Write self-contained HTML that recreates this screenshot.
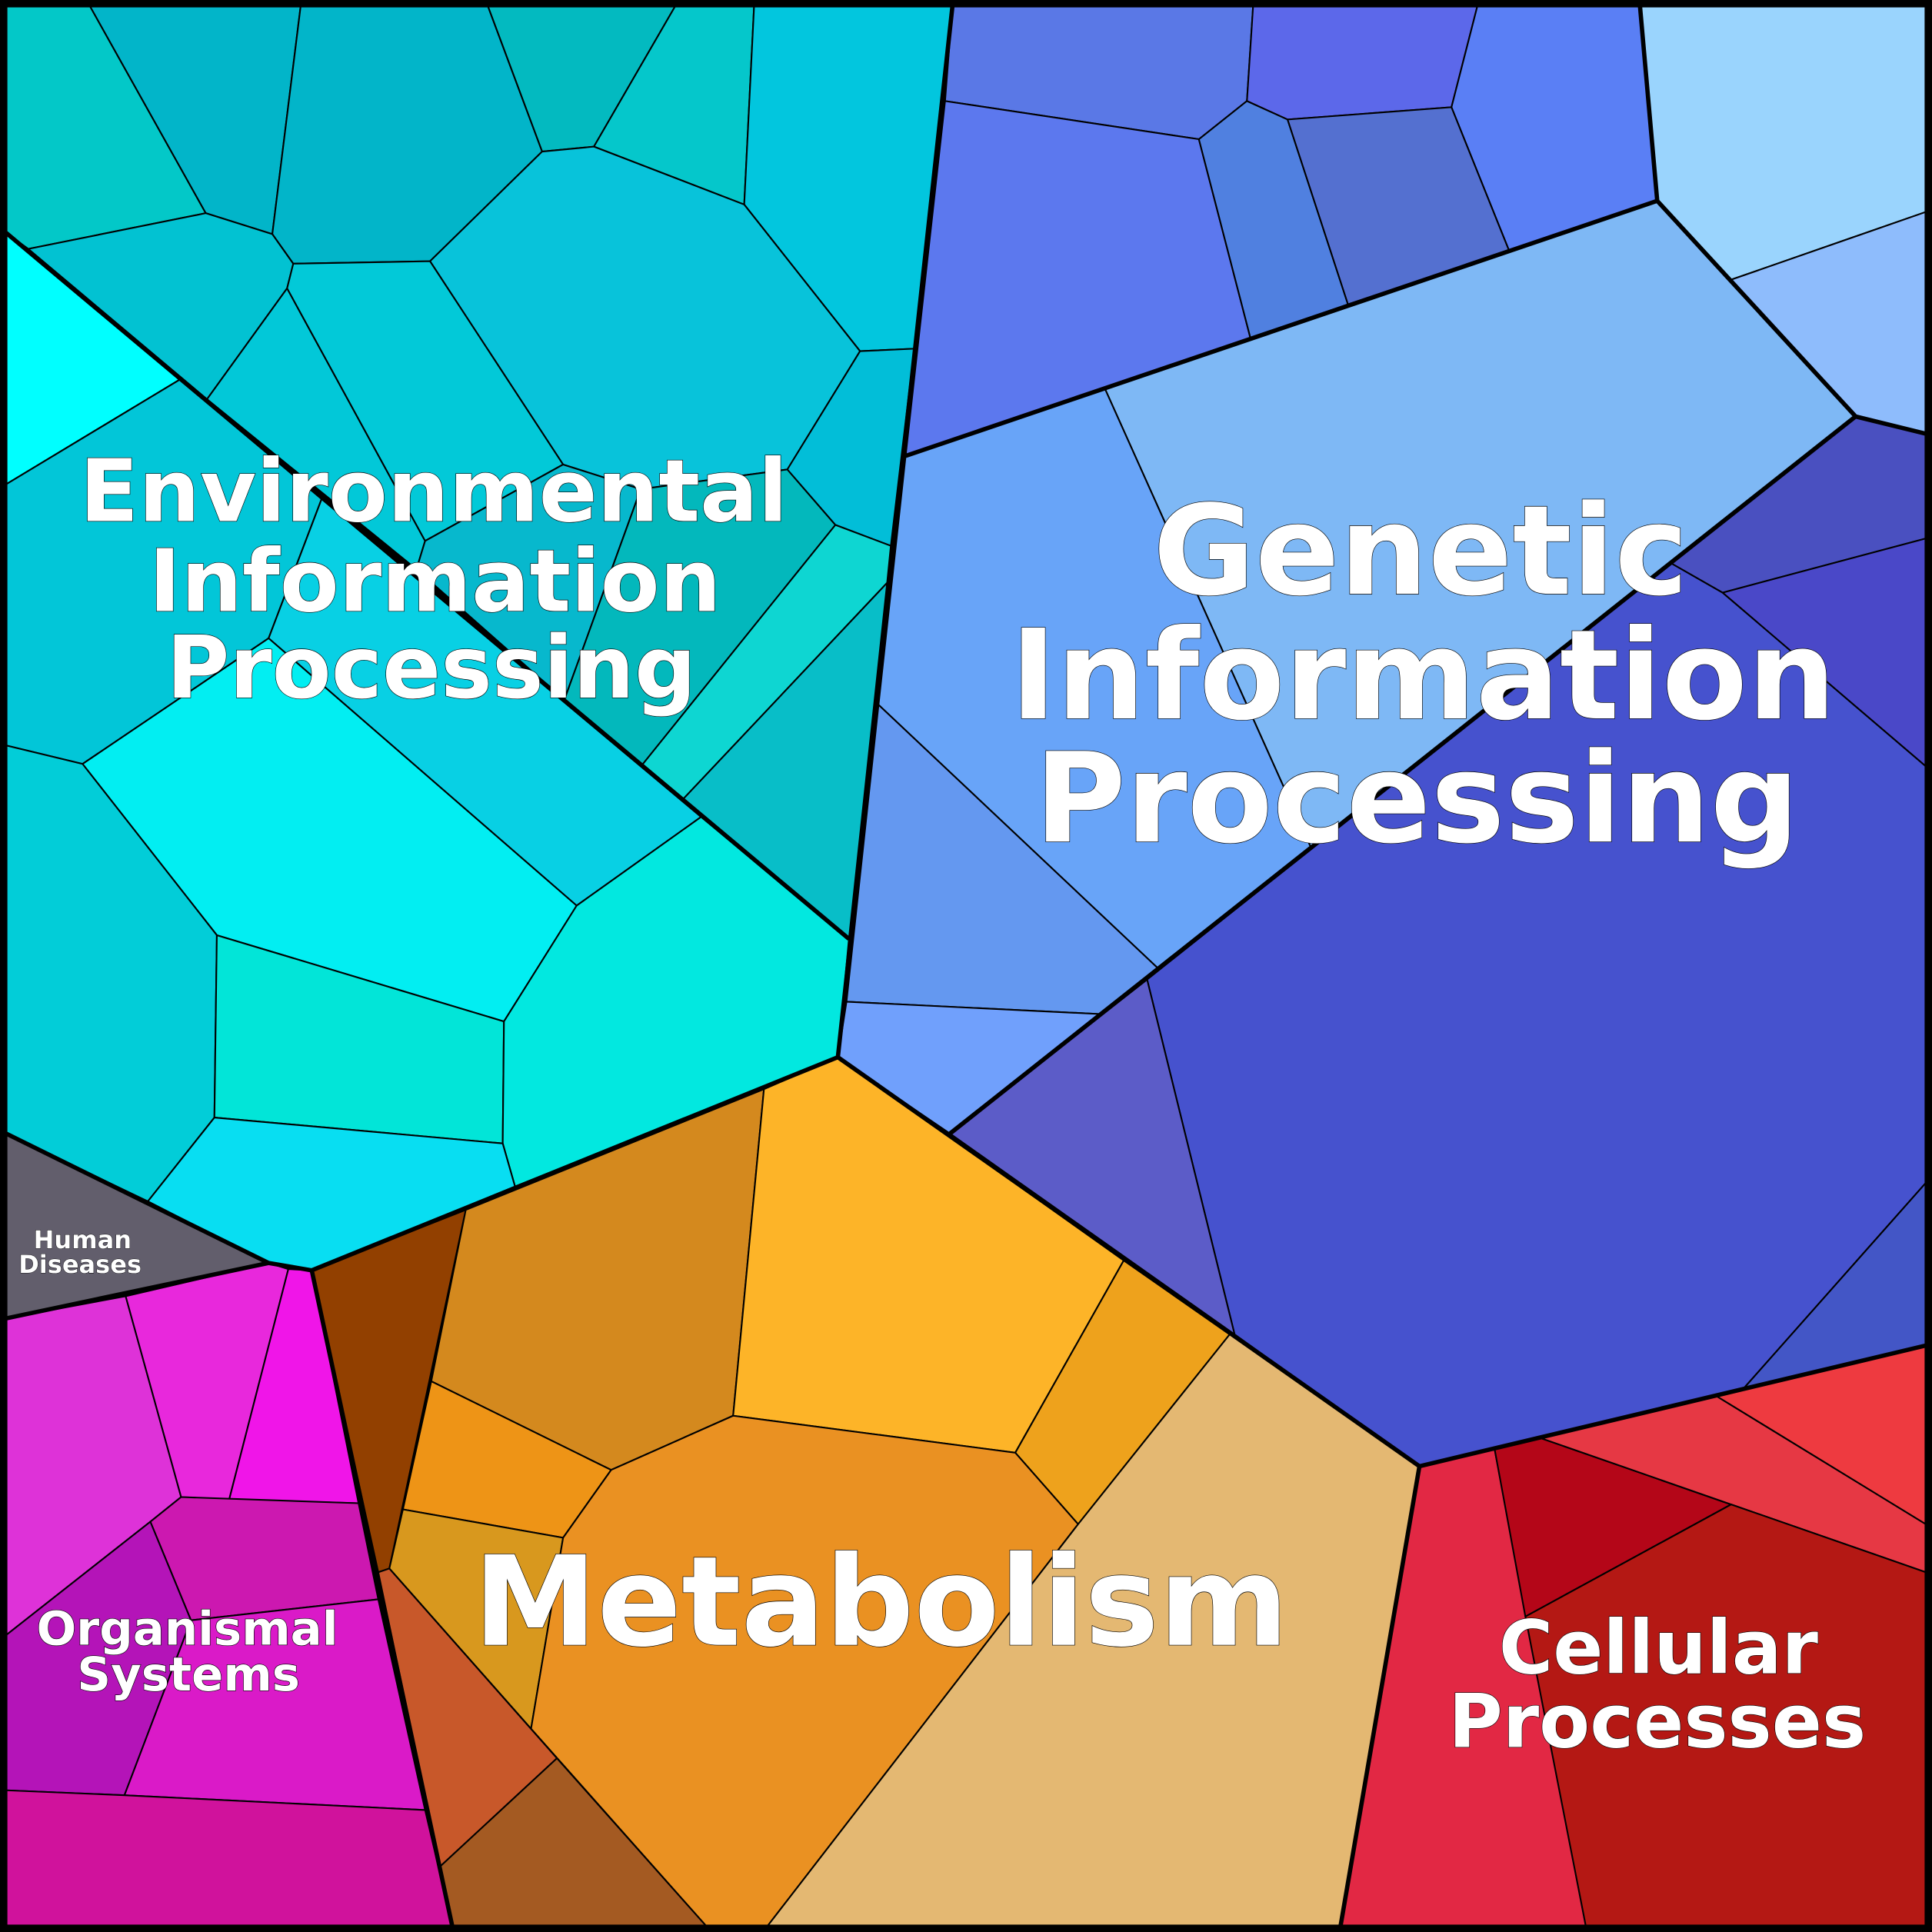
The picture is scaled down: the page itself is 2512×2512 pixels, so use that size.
<!DOCTYPE html>
<html><head><meta charset="utf-8"><style>html,body{margin:0;padding:0;background:#000}svg{display:block}</style></head>
<body>
<svg xmlns="http://www.w3.org/2000/svg" width="2512" height="2512" viewBox="0 0 1568 1568">
<g stroke="#000" stroke-width="1.3" stroke-linejoin="round">
<polygon fill="#03c8c8" points="5,5 73,5 167,173 23,202 5,189"/>
<polygon fill="#02b5c9" points="73,5 244,5 221,190 167,173"/>
<polygon fill="#02b5c9" points="244,5 396,5 440,123 349,212 238,214 221,190"/>
<polygon fill="#03bac0" points="396,5 548,5 482,119 440,123"/>
<polygon fill="#05c7cb" points="548,5 612,5 604,166 482,119"/>
<polygon fill="#02c6de" points="612,5 773,5 742,283 698,285 604,166"/>
<polygon fill="#08c3da" points="440,123 482,119 604,166 698,285 639,381 520,397 457,377 349,212"/>
<polygon fill="#02c2d2" points="23,202 167,173 221,190 238,214 233,234 168,324"/>
<polygon fill="#02c8d8" points="233,234 345,439 338,462 168,324"/>
<polygon fill="#02c9d8" points="238,214 349,212 457,377 345,439 233,234"/>
<polygon fill="#07b8cd" points="345,439 457,377 520,397 458,568 338,462"/>
<polygon fill="#03b8bc" points="520,397 639,381 678,426 521,621 458,568"/>
<polygon fill="#02bed8" points="698,285 742,283 723,443 678,426 639,381"/>
<polygon fill="#0ed6d2" points="678,426 723,443 720,473 554,649 521,621"/>
<polygon fill="#08bec8" points="720,473 689,762 554,649"/>
<polygon fill="#00ffff" points="5,189 146,308 5,393"/>
<polygon fill="#02c6d8" points="146,308 261,405 218,518 67,620 5,605 5,393"/>
<polygon fill="#08d0e4" points="261,405 569,663 468,735 218,518"/>
<polygon fill="#02eef2" points="218,518 468,735 409,829 176,759 67,620"/>
<polygon fill="#02cdd8" points="5,605 67,620 176,759 174,907 120,975 5,920"/>
<polygon fill="#02e5d8" points="176,759 409,829 408,928 174,907"/>
<polygon fill="#02e8e0" points="468,735 569,663 689,762 680,858 418,963 408,928 409,829"/>
<polygon fill="#08def2" points="174,907 408,928 418,963 253,1031 218,1025 120,975"/>
<polygon fill="#625e6c" points="5,920 218,1025 5,1070"/>
<polygon fill="#de32d8" points="5,1070 102,1052 147,1215 122,1235 5,1327"/>
<polygon fill="#e828dc" points="102,1052 218,1025 234,1030 186,1217 147,1215"/>
<polygon fill="#f015e8" points="234,1030 253,1031 291,1220 186,1217"/>
<polygon fill="#cc18b0" points="147,1215 291,1220 307,1298 155,1315 122,1235"/>
<polygon fill="#b414b8" points="5,1327 122,1235 155,1315 101,1457 5,1453"/>
<polygon fill="#da1ac8" points="155,1315 307,1298 345,1469 101,1457"/>
<polygon fill="#d0129c" points="5,1453 101,1457 345,1469 367,1563 5,1563"/>
<polygon fill="#924000" points="253,1031 378,982 316,1273 307,1276"/>
<polygon fill="#d4891e" points="378,982 620,884 595,1149 496,1193 350,1121"/>
<polygon fill="#fdb428" points="620,884 680,858 912,1023 824,1179 595,1149"/>
<polygon fill="#eea21c" points="912,1023 998,1083 875,1237 824,1179"/>
<polygon fill="#ee9416" points="350,1121 496,1193 457,1248 327,1225"/>
<polygon fill="#d8981e" points="327,1225 457,1248 431,1403 316,1273"/>
<polygon fill="#ea9122" points="496,1193 595,1149 824,1179 875,1237 623,1563 573,1563 431,1403 457,1248"/>
<polygon fill="#c8582a" points="307,1276 316,1273 452,1427 357,1515"/>
<polygon fill="#a45a22" points="357,1515 452,1427 573,1563 367,1563"/>
<polygon fill="#e4b872" points="875,1237 998,1083 1152,1190 1088,1563 623,1563"/>
<polygon fill="#5a78e6" points="773,5 1017,5 1012,82 973,113 767,82"/>
<polygon fill="#5c68ea" points="1017,5 1199,5 1178,87 1045,97 1012,82"/>
<polygon fill="#5a7ff5" points="1199,5 1331,5 1345,163 1225,204 1178,87"/>
<polygon fill="#9ad4fd" points="1331,5 1563,5 1563,172 1405,227 1345,163"/>
<polygon fill="#5c78ee" points="767,82 973,113 1015,275 735,370"/>
<polygon fill="#5080e0" points="973,113 1012,82 1045,97 1094,247 1015,275"/>
<polygon fill="#5470d0" points="1045,97 1178,87 1225,204 1094,247"/>
<polygon fill="#8ebcfc" points="1405,227 1563,172 1563,352 1506,338"/>
<polygon fill="#7eb8f5" points="897,316 1345,163 1506,338 1064,688"/>
<polygon fill="#68a4f8" points="735,370 897,316 1064,688 940,786 713,572"/>
<polygon fill="#6498f0" points="713,572 940,786 893,823 687,813"/>
<polygon fill="#70a0fc" points="687,813 893,823 771,920 680,858"/>
<polygon fill="#4a50c0" points="1506,338 1563,352 1563,437 1398,481 1356,457"/>
<polygon fill="#4a48c8" points="1398,481 1563,437 1563,622"/>
<polygon fill="#4652ce" points="1356,457 1398,481 1563,622 1563,960 1415,1127 1152,1190 1002,1083 931,795"/>
<polygon fill="#5c5cc8" points="931,795 1002,1083 771,920"/>
<polygon fill="#4356c6" points="1563,960 1563,1092 1415,1127"/>
<polygon fill="#e22844" points="1152,1190 1213,1176 1287,1563 1088,1563"/>
<polygon fill="#b40618" points="1213,1176 1250,1167 1405,1221 1238,1312"/>
<polygon fill="#e63844" points="1250,1167 1393,1133 1563,1237 1563,1276 1405,1221"/>
<polygon fill="#ee3a40" points="1393,1133 1563,1092 1563,1237"/>
<polygon fill="#b41814" points="1238,1312 1405,1221 1563,1276 1563,1563 1287,1563"/>
</g>
<g fill="none" stroke="#000" stroke-width="3.5" stroke-linejoin="round">
<polyline points="5,189 689,762"/>
<polyline points="773,5 680,858 253,1031 218,1025 5,920"/>
<polyline points="218,1025 5,1070"/>
<polyline points="253,1031 367,1563"/>
<polyline points="680,858 1152,1190 1563,1092"/>
<polyline points="1152,1190 1088,1563"/>
<polyline points="735,370 1345,163 1331,5"/>
<polyline points="1345,163 1506,338 1563,352"/>
<polyline points="1506,338 771,920"/>
</g>
<rect x="3" y="3" width="1562" height="1562" fill="none" stroke="#000" stroke-width="6"/>
<g font-family="'DejaVu Sans','Liberation Sans',sans-serif" font-weight="bold" fill="#fff" text-anchor="middle" stroke="#000" stroke-width="0.8" paint-order="stroke">
<g font-size="70">
<text x="352" y="423">Environmental</text>
<text x="353" y="496">Information</text>
<text x="350" y="566">Processing</text>
</g>
<g font-size="101">
<text x="1153" y="482">Genetic</text>
<text x="1155" y="583">Information</text>
<text x="1150" y="683">Processing</text>
<text x="715" y="1335">Metabolism</text>
</g>
<g font-size="60">
<text x="1346" y="1358">Cellular</text>
<text x="1345" y="1418">Processes</text>
</g>
<g font-size="38">
<text x="152" y="1335">Organismal</text>
<text x="153" y="1372">Systems</text>
</g>
<g font-size="20" stroke-width="0.5">
<text x="67" y="1013">Human</text>
<text x="65" y="1033">Diseases</text>
</g>
</g>
</svg>
</body></html>
